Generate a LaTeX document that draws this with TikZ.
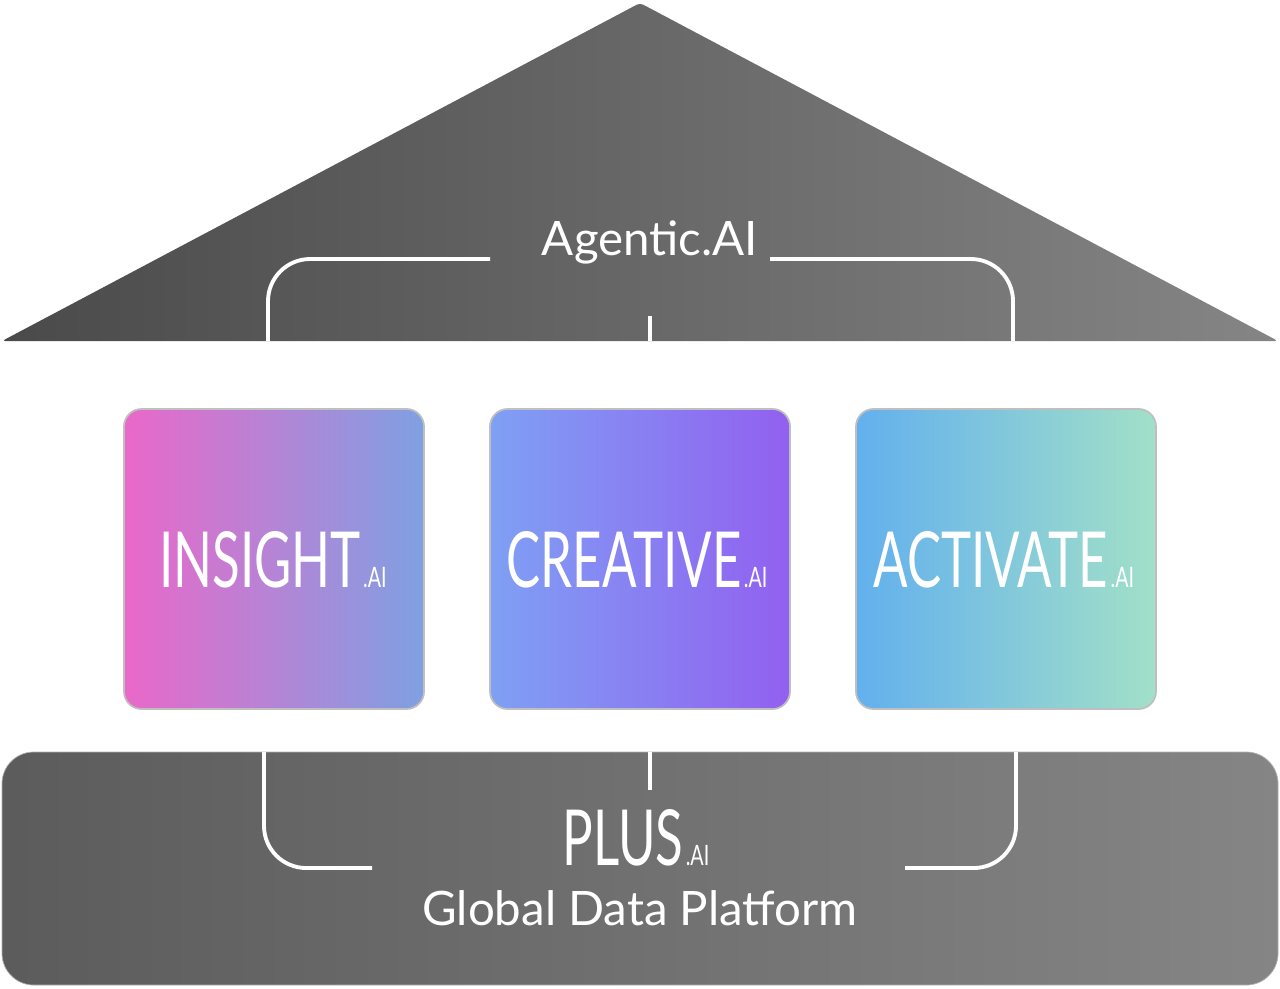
\documentclass[tikz,border=0pt]{standalone}
\usepackage{fontspec}
\setmainfont{Lato}
\usetikzlibrary{positioning}
\definecolor{roofdark}{HTML}{4A4A4A}
\definecolor{rooflight}{HTML}{858585}
\definecolor{insA}{HTML}{EA68C9}
\definecolor{insB}{HTML}{7FA0E2}
\definecolor{creA}{HTML}{7FA0F4}
\definecolor{creB}{HTML}{9260F0}
\definecolor{actA}{HTML}{62B0EE}
\definecolor{actB}{HTML}{A2E0C8}
\tikzset{
  pillar/.style={rounded corners=10pt, draw=black!25, line width=1pt},
  wire/.style={white, line width=2.2pt, rounded corners=24pt},
  brand/.style={text=white, font=\fontsize{44}{44}\selectfont, inner sep=0pt},
  small/.style={text=white, font=\fontsize{16}{16}\selectfont, inner sep=0pt}
}
\begin{document}
\begin{tikzpicture}[x=0.02cm,y=-0.02cm]
\useasboundingbox (0,0) rectangle (1280,988);
% roof
\shade[left color=roofdark, right color=rooflight, rounded corners=2pt]
  (2,341) -- (640,3) -- (1278,341) -- cycle;
\node[text=white, font=\fontsize{27}{27}\selectfont] (agentic) at (650,242) {Agentic.AI};
\draw[wire] (268,341) -- (268,259) -- (490,259);
\draw[wire] (770,259) -- (1013,259) -- (1013,341);
\draw[wire] (650,316) -- (650,341);
% pillars
\shade[pillar, left color=insA, right color=insB] (124,409) rectangle (424,709);
\shade[pillar, left color=creA, right color=creB] (490,409) rectangle (790,709);
\shade[pillar, left color=actA, right color=actB] (856,409) rectangle (1156,709);
\node[brand] (insight) at (260,560) {\scalebox{0.66}[1]{INSIGHT}};
\node[small, anchor=base west] (insightai) at ([xshift=1]insight.base east) {\scalebox{0.7}[1]{.AI}};
\node[brand] (creative) at (624,560) {\scalebox{0.66}[1]{CREATIVE}};
\node[small, anchor=base west] (creativeai) at ([xshift=1]creative.base east) {\scalebox{0.7}[1]{.AI}};
\node[brand] (activate) at (991,560) {\scalebox{0.66}[1]{ACTIVATE}};
\node[small, anchor=base west] (activateai) at ([xshift=1]activate.base east) {\scalebox{0.7}[1]{.AI}};
% platform
\shade[left color=roofdark!70!rooflight, right color=rooflight, rounded corners=18pt, draw=black!30]
  (2,752) rectangle (1278,985);
\draw[wire] (264,752) -- (264,868) -- (372,868);
\draw[wire] (905,868) -- (1016,868) -- (1016,752);
\draw[wire] (650,752) -- (650,790);
\node[brand] (plus) at (623,838) {\scalebox{0.66}[1]{PLUS}};
\node[small, anchor=base west] (plusai) at ([xshift=1]plus.base east) {\scalebox{0.7}[1]{.AI}};
\node[text=white, font=\fontsize{27}{27}\selectfont] (platform) at (640,908) {Global Data Platform};
\end{tikzpicture}
\end{document}
